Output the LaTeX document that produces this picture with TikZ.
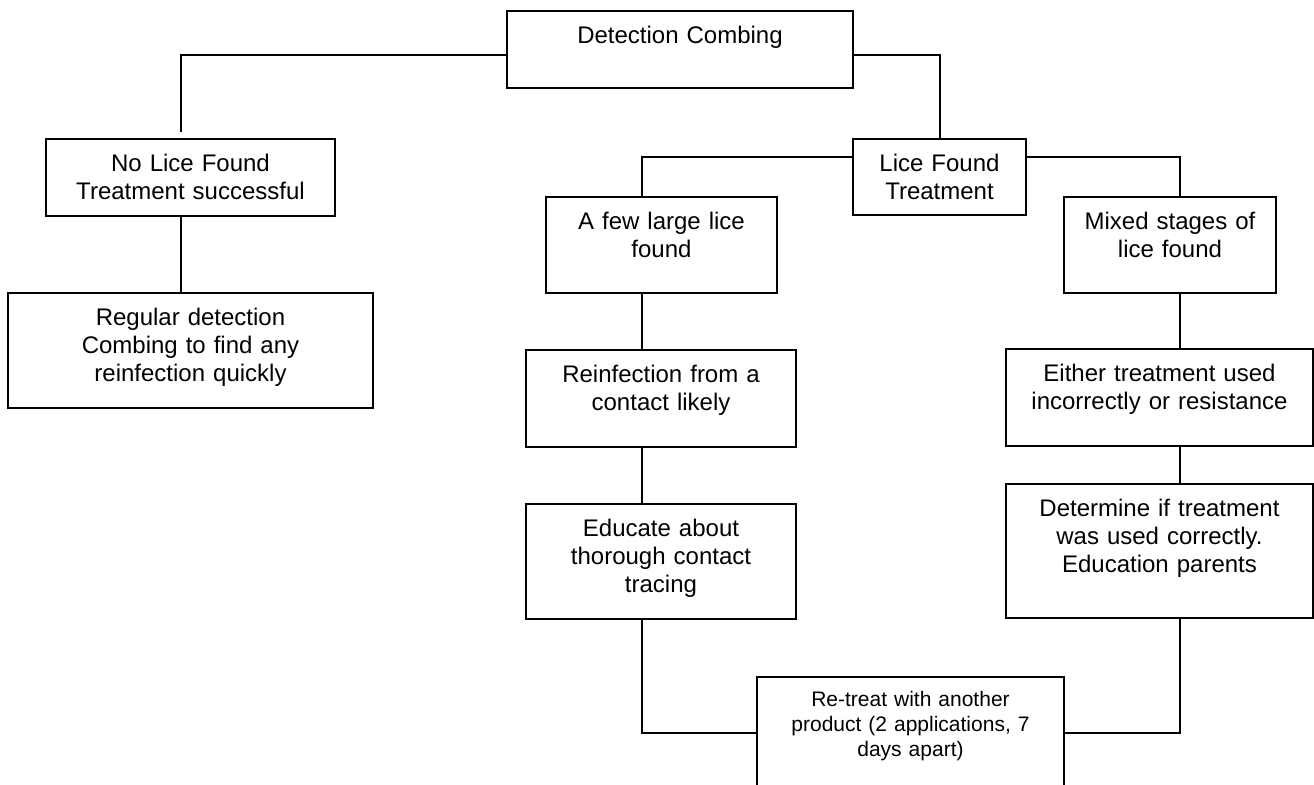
\documentclass[tikz,border=0pt]{standalone}
\usepackage{fontspec}
\setmainfont{Liberation Sans}

\tikzset{
    stage/.style={draw=black, line width=1pt, inner sep=0pt, anchor=north, align=center,
        font=\fontsize{12}{13.8}\selectfont, text height=16.5pt},
    small stage/.style={stage, font=\fontsize{10.5}{12.5}\selectfont, text height=15pt},
    link/.style={draw=black, line width=1pt},
}

\begin{document}
\begin{tikzpicture}[x=0.5pt, y=-0.5pt]
                \clip (0,0) rectangle (1314,785);
                \coordinate (top) at (0,55);
                \coordinate (branch) at (0,157);
                \coordinate (join) at (0,733);
                \coordinate (nspine) at (181,0);
                \coordinate (lspine) at (642,0);
                \coordinate (rspine) at (1180,0);

                \node[stage, text width=173pt, text depth=22pt] (dc) at (680,10) {Detection Combing};
                \node[stage, text width=144.5pt, text depth=22pt] (nolice) at (190.5,138) {No Lice Found\\Treatment successful};
                \node[stage, text width=182.5pt, text depth=41pt] (regular) at (190.5,292) {Regular detection\\Combing to find any\\reinfection quickly};
                \node[stage, text width=86.5pt, text depth=21.5pt] (found) at (939.5,138) {Lice Found\\Treatment};
                \node[stage, text width=115.5pt, text depth=31.5pt] (few) at (661.5,196) {A few large lice\\found};
                \node[stage, text width=106pt, text depth=31.5pt] (mixed) at (1170,196) {Mixed stages of\\lice found};
                \node[stage, text width=135pt, text depth=32pt] (reinf) at (661,349) {Reinfection from a\\contact likely};
                \node[stage, text width=135pt, text depth=41pt] (educ) at (661,503) {Educate about\\thorough contact\\tracing};
                \node[stage, text width=153.5pt, text depth=32pt] (either) at (1159.5,348) {Either treatment used\\incorrectly or resistance};
                \node[stage, text width=153.5pt, text depth=50.5pt] (determ) at (1159.5,483) {Determine if treatment\\was used correctly.\\Education parents};
                \node[small stage, text width=153.5pt, text depth=60pt] (retreat) at (910.5,676) {Re-treat with another\\product (2 applications, 7\\days apart)};

                \draw[link] (dc.west |- top) -| ([yshift=3pt]nolice.north -| nspine);
                \draw[link] (nolice.south -| nspine) -- (regular.north -| nspine);
                \draw[link] (dc.east |- top) -| (found.north);
                \draw[link] (found.west |- branch) -| (few.north -| lspine);
                \draw[link] (found.east |- branch) -| (mixed.north -| rspine);
                \draw[link] (few.south -| lspine) -- (reinf.north -| lspine);
                \draw[link] (reinf.south -| lspine) -- (educ.north -| lspine);
                \draw[link] (educ.south -| lspine) |- (retreat.west |- join);
                \draw[link] (mixed.south -| rspine) -- (either.north -| rspine);
                \draw[link] (either.south -| rspine) -- (determ.north -| rspine);
                \draw[link] (determ.south -| rspine) |- (retreat.east |- join);
            \end{tikzpicture}
\end{document}
